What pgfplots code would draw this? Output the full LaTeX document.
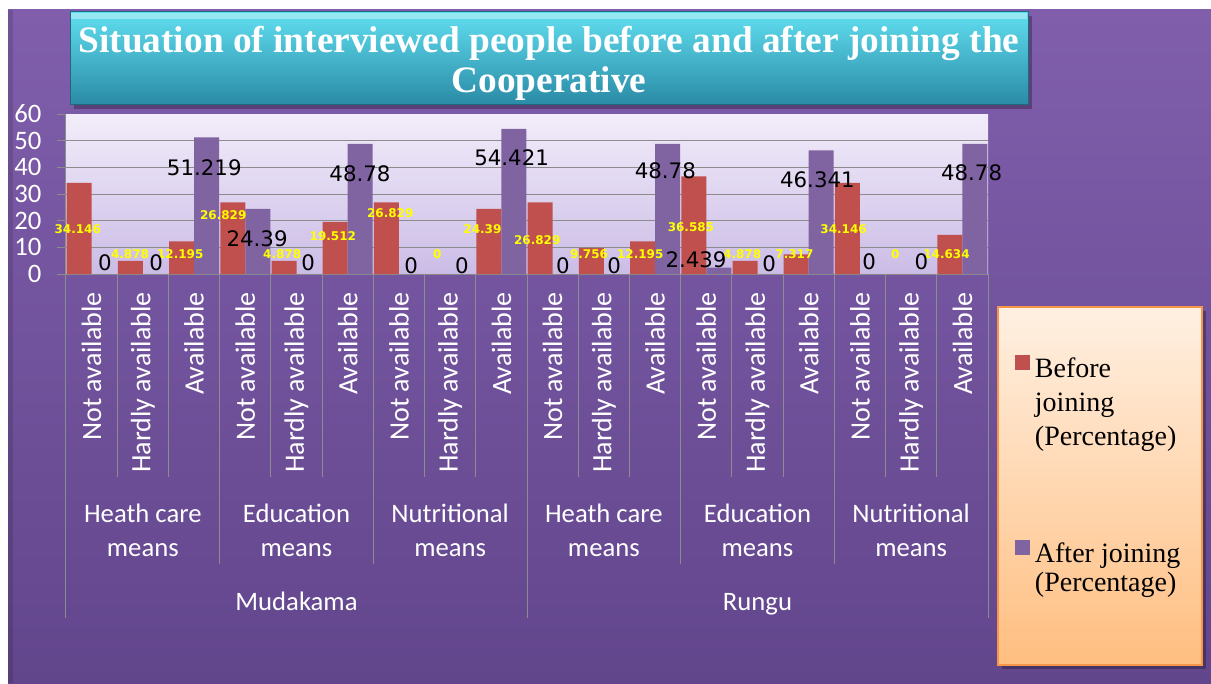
\documentclass[border=0pt]{standalone}
\usepackage{pgfplots}
\usepackage{pgfplotstable}
\pgfplotsset{compat=1.18}
\usepackage{fontspec}
\setmainfont{Carlito}
\newfontfamily\titlefont{Liberation Serif}
\newfontfamily\lblfont{DejaVu Sans}
\definecolor{barred}{RGB}{192,80,77}
\definecolor{barpurple}{RGB}{128,100,162}
\definecolor{bgtop}{RGB}{128,94,172}
\definecolor{bgbot}{RGB}{98,70,140}
\definecolor{plottop}{RGB}{242,237,250}
\definecolor{plotbot}{RGB}{203,188,230}
\definecolor{titletop}{RGB}{96,222,240}
\definecolor{titlebot}{RGB}{42,138,166}
\definecolor{titleedge}{RGB}{30,105,125}
\definecolor{legtop}{RGB}{255,240,226}
\definecolor{legbot}{RGB}{255,190,128}
\definecolor{legborder}{RGB}{247,150,70}
\definecolor{sepgray}{RGB}{140,140,140}
\definecolor{lblyellow}{RGB}{255,255,0}

\tikzset{
  seplin/.style={draw=sepgray, line width=0.75pt},
  grplbl/.style={anchor=base, text=white, inner sep=0pt, font=\fontsize{20}{24}\selectfont},
  ylbl/.style={text=lblyellow, inner sep=0pt, font=\lblfont\bfseries\fontsize{9}{10}\selectfont},
  blbl/.style={text=black, inner sep=0pt, font=\lblfont\fontsize{16}{18}\selectfont},
}

\pgfplotstableread{
x before after
0 34.146 0
1 4.878 0
2 12.195 51.219
3 26.829 24.39
4 4.878 0
5 19.512 48.78
6 26.829 0
7 0 0
8 24.39 54.421
9 26.829 0
10 9.756 0
11 12.195 48.78
12 36.585 2.439
13 4.878 0
14 7.317 46.341
15 34.146 0
16 0 0
17 14.634 48.78
}\datatable

\begin{document}
\begin{tikzpicture}
\useasboundingbox (0,0) rectangle (908.25pt,512.25pt);
\begin{scope}[x=0.75pt,y=0.75pt]
  % chart background
  \shade[top color=bgtop, bottom color=bgbot] (8,0) rectangle (1211,673);
  \fill[black,opacity=0.12] (8,0) rectangle (13,673);
  % title box
  \fill[black,opacity=0.28] (74,574) rectangle (1032,667);
  \shade[top color=titletop, bottom color=titlebot, draw=titleedge, line width=0.75pt] (70,578) rectangle (1028,671);
  \fill[white,opacity=0.35] (71,664) rectangle (1027,670);
  \node[anchor=base, text=white, font=\titlefont\bfseries\fontsize{28}{32}\selectfont, inner sep=0pt] at (549,630) {Situation of interviewed people before and after joining the};
  \node[anchor=base, text=white, font=\titlefont\bfseries\fontsize{28}{32}\selectfont, inner sep=0pt] at (549,590) {Cooperative};
  % legend box
  \fill[black,opacity=0.28] (1002,14) rectangle (1206,372);
  \shade[top color=legtop, bottom color=legbot, draw=legborder, line width=2pt] (998,18) rectangle (1202,376);
\end{scope}

\begin{axis}[
  at={(49.5pt,306.75pt)}, anchor=south west,
  scale only axis, width=691.5pt, height=120pt,
  xmin=-0.5, xmax=17.5, ymin=0, ymax=60,
  axis x line*=bottom, axis y line*=left,
  axis line style={draw=sepgray, line width=0.75pt},
  ytick={0,10,...,50}, extra y ticks={60}, extra y tick style={grid=none},
  ymajorgrids, grid style={draw=sepgray, line width=0.75pt},
  ytick align=outside, major tick length=6.75pt,
  ytick style={draw=sepgray, line width=0.75pt},
  xtick={0,...,17},
  xticklabels={Not available,Hardly available,Available,Not available,Hardly available,Available,Not available,Hardly available,Available,Not available,Hardly available,Available,Not available,Hardly available,Available,Not available,Hardly available,Available},
  xtick style={draw=none},
  xticklabel style={rotate=90, anchor=east, inner sep=0pt, font=\fontsize{21}{24}\selectfont, text=white},
  xticklabel shift=13.5pt,
  yticklabel style={inner sep=0pt, font=\fontsize{20}{24}\selectfont, text=white},
  yticklabel shift=11.5pt,
  /pgf/number format/assume math mode=true,
  axis background/.style={top color=plottop, bottom color=plotbot},
  clip=false,
  legend style={at={(1.0293,-0.506)}, anchor=north west, draw=none, fill=none, inner sep=0pt, row sep=121pt, column sep=3.5pt, nodes={inner sep=0pt}},
  legend cell align=left,
  legend image code/.code={\fill[#1] (0pt,-1.5pt) rectangle (11.25pt,9.75pt);},
]
\addplot[ybar, bar width=18.75pt, bar shift=-9.375pt, fill=barred, draw=none] table[x=x, y=before] {\datatable};
\addlegendentry{\parbox[t]{125pt}{\titlefont\fontsize{21}{25.5}\selectfont Before\\joining\\(Percentage)}}
\addplot[ybar, bar width=18.75pt, bar shift=9.375pt, fill=barpurple, draw=none] table[x=x, y=after] {\datatable};
\addlegendentry{\parbox[t]{125pt}{\titlefont\fontsize{21}{22}\selectfont After joining\\(Percentage)}}

% separators below the axis
\foreach \s in {0.5,1.5,3.5,4.5,6.5,7.5,9.5,10.5,12.5,13.5,15.5,16.5}
  {\edef\temp{\noexpand\draw[seplin] (axis cs:\s,0) -- ++(0pt,-152.25pt);}\temp}
\foreach \s in {2.5,5.5,11.5,14.5}
  {\edef\temp{\noexpand\draw[seplin] (axis cs:\s,0) -- ++(0pt,-217.5pt);}\temp}
\foreach \s in {-0.5,8.5,17.5}
  {\edef\temp{\noexpand\draw[seplin] (axis cs:\s,0) -- ++(0pt,-258pt);}\temp}

% group labels
\foreach \c/\a/\b in {1/Heath care/means,4/Education/means,7/Nutritional/means,10/Heath care/means,13/Education/means,16/Nutritional/means}{
  \edef\temp{\noexpand\node[grplbl] at ([yshift=-186pt]axis cs:\c,0) {\a};
  \noexpand\node[grplbl] at ([yshift=-211.5pt]axis cs:\c,0) {\b};}\temp
}
\node[grplbl] at ([yshift=-252pt]axis cs:4,0) {Mudakama};
\node[grplbl] at ([yshift=-252pt]axis cs:13,0) {Rungu};

% data labels: before joining
\foreach \x/\y/\t in {-0.27/16.9/34.146, 0.75/7.5/4.878, 1.73/7.5/12.195, 2.57/22.1/26.829, 3.72/7.5/4.878, 4.71/14.25/19.512, 5.83/22.9/26.829, 6.75/7.5/0, 7.63/16.9/24.39, 8.7/12.75/26.829, 9.71/7.5/9.756, 10.71/7.5/12.195, 11.7/17.6/36.585, 12.7/7.5/4.878, 13.72/7.5/7.317, 14.68/16.9/34.146, 15.69/7.5/0, 16.69/7.5/14.634}
  {\edef\temp{\noexpand\node[ylbl] at (axis cs:\x,\y) {\t};}\temp}
% data labels: after joining
\foreach \x/\y/\t in {0.26/4.1/0, 1.26/4.1/0, 2.2/39.8/51.219, 3.23/13.2/24.39, 4.23/4.1/0, 5.24/37.6/48.78, 6.24/3.0/0, 7.23/3.0/0, 8.2/43.5/54.421, 9.2/3.0/0, 10.2/3.0/0, 11.2/38.7/48.78, 11.8/5.3/2.439, 13.23/3.8/0, 14.17/35.3/46.341, 15.18/4.5/0, 16.2/4.5/0, 17.18/38/48.78}
  {\edef\temp{\noexpand\node[blbl] at (axis cs:\x,\y) {\t};}\temp}
\end{axis}
\end{tikzpicture}
\end{document}
